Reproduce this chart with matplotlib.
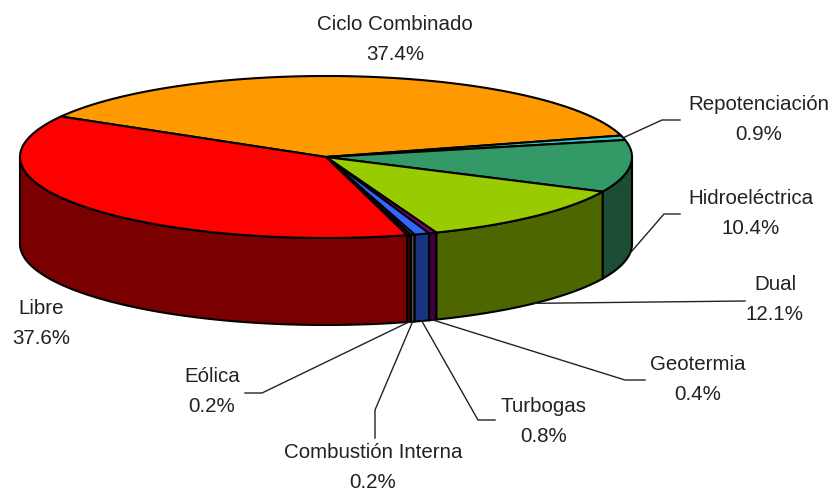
import numpy as np
import matplotlib
matplotlib.use("Agg")
import matplotlib.pyplot as plt
from matplotlib.patches import Polygon

names = ["Ciclo Combinado", "Repotenciación", "Hidroeléctrica", "Dual", "Geotermia",
         "Turbogas", "Combustión Interna", "Eólica", "Libre"]
values = [37.4, 0.9, 10.4, 12.1, 0.4, 0.8, 0.2, 0.2, 37.6]
top_colors = ["#FF9900", "#33CCCC", "#339966", "#99CC00", "#800080",
              "#3366FF", "#969696", "#800000", "#FF0000"]
side_colors = ["#804D00", "#1A6666", "#1A4D33", "#4D6600", "#400040",
               "#1A3380", "#4B4B4B", "#400000", "#7A0000"]

# label centre x, y of first line
label_x = [395, 759, 751, 775, 698, 544, 373, 212, 41]
label_y = [25, 105, 199, 285, 365, 407, 452, 377, 309]
# elbow of the leader line, None means no leader
elbow_a = [None, (662, 120), (664, 214), None, (625, 380), (478, 420), (375, 410), (262, 393), None]
elbow_b = [None, (680, 120), (680, 214), (745, 301), (645, 380), (495, 420), (375, 438), (245, 393), None]

cx, cy = 326, 157
rx, ry = 306, 81
depth = 87
start = 150.0


def rim(t, down=0):
    t = np.radians(t)
    return np.column_stack([cx + rx * np.cos(t), cy - ry * np.sin(t) + down])


fig = plt.figure(figsize=(8.34, 4.92), dpi=100)
ax = fig.add_axes([0, 0, 1, 1])
ax.set_xlim(0, 834)
ax.set_ylim(492, 0)
ax.axis("off")

# walls, only the part in front (angles below 0 and above -180)
a = start
for v, sc in zip(values, side_colors):
    b = a - v * 3.6
    lo, hi = max(b, -180), min(a, 0)
    if hi > lo:
        t = np.linspace(hi, lo, 80)
        pts = np.vstack([rim(t), rim(t[::-1], depth)])
        ax.add_patch(Polygon(pts, closed=True, fc=sc, ec="black", lw=1.5, zorder=2))
    a = b

# top surface
a = start
mids = []
for v, tc in zip(values, top_colors):
    b = a - v * 3.6
    t = np.linspace(a, b, 200)
    pts = np.vstack([[cx, cy], rim(t)])
    ax.add_patch(Polygon(pts, closed=True, fc=tc, ec="black", lw=1.5, zorder=3))
    mids.append((a + b) / 2)
    a = b

# labels and leaders
for i, name in enumerate(names):
    ax.text(label_x[i], label_y[i], name, ha="center", va="center", fontsize=14.8,
            family="Liberation Sans", color="#222222")
    ax.text(label_x[i], label_y[i] + 30, "{}%".format(values[i]), ha="center", va="center",
            fontsize=14.8, family="Liberation Sans", color="#222222")
    if elbow_b[i] is None:
        continue
    m = mids[i]
    s = np.sin(np.radians(m))
    p = rim(m, depth if s < 0 else 0)[0]
    xs, ys = [p[0]], [p[1]]
    if elbow_a[i] is not None:
        xs.append(elbow_a[i][0])
        ys.append(elbow_a[i][1])
    xs.append(elbow_b[i][0])
    ys.append(elbow_b[i][1])
    ax.plot(xs, ys, color="#222222", lw=1, zorder=4)

fig.savefig("out.png", dpi=100)
